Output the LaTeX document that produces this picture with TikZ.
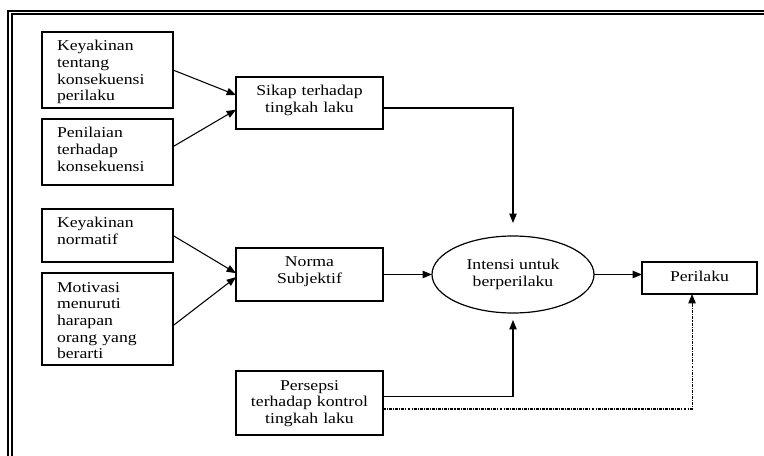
\documentclass[tikz,border=0pt]{standalone}
\usepackage{fontspec}
\setmainfont{Liberation Serif}[FakeStretch=1.18]
\usetikzlibrary{%
  arrows.meta,
  positioning,calc,
  shapes.geometric
}

\begin{document}
\begin{tikzpicture}[x=0.75pt,y=-0.75pt,
    font=\fontsize{11.25pt}{12.5pt}\selectfont,
    every node/.style={outer sep=0pt},
    lbox/.style={draw,line width=0.9pt,anchor=north west,inner xsep=11.25pt,
      inner ysep=0pt,text width=75.75pt,align=left,text height=14.25pt},
    cbox/.style={draw,line width=0.9pt,anchor=north west,inner xsep=7.5pt,
      inner ysep=0pt,text width=95.25pt,align=center,text height=14.25pt},
    arr/.style={line width=0.8pt,-{Triangle[length=7pt,width=5.5pt]}}]
  \useasboundingbox (0,0) rectangle (764,456);
  \clip (0,0) rectangle (764,456);
  \draw[line width=1.5pt] (780,11) -- (8,11) -- (8,470);
  \draw[line width=1.5pt] (780,14) -- (12,14) -- (12,470);
  \foreach \nm/\ty/\dep/\txt in {ka/32/42.75/{Keyakinan\\tentang\\konsekuensi\\perilaku},
      pn/119/35.25/{Penilaian\\terhadap\\konsekuensi},
      kn/209/25.5/{Keyakinan\\normatif},
      mv/273/54.75/{Motivasi\\menuruti\\harapan\\orang yang\\berarti}} {
    \node[lbox,text depth=\dep pt] (\nm) at (42,\ty) {\txt};
  }
  \node[cbox,text depth=24.75pt] (sk) at (236,77) {Sikap terhadap\\tingkah laku};
  \node[cbox,text depth=25.5pt] (ns) at (236,248) {Norma\\Subjektif};
  \node[cbox,text depth=33.75pt] (pk) at (236,371) {Persepsi\\terhadap kontrol\\tingkah laku};
  \node[draw,ellipse,line width=0.9pt,minimum width=121.5pt,minimum height=57.75pt,
    inner sep=0pt,align=center] (ib) at (513,274.5) {Intensi untuk\\berperilaku};
  \node[cbox,text width=71.25pt,text depth=9.75pt] (pr) at (642,262) {Perilaku};

  \draw[arr] (ka.east) -- ([yshift=6pt]sk.west);
  \draw[arr] ([yshift=4pt]pn.east) -- ([yshift=-5pt]sk.west);
  \draw[arr] (kn.east) -- ([yshift=1pt]ns.west);
  \draw[arr] ([yshift=-5pt]mv.east) -- ([yshift=-2pt]ns.west);
  \draw[arr] ([yshift=-3.75pt]sk.east) -| ([yshift=9.75pt]ib.north);
  \draw[arr] (ns.east) -- (ib.west);
  \draw[arr] ([yshift=5pt]pk.east) -| ([yshift=-5.25pt]ib.south);
  \draw[arr] (ib.east) -- (ib.east -| pr.west);
  \draw[arr,dash pattern=on 2.2pt off 0.8pt on 0.8pt off 0.8pt]
    ([yshift=-4.5pt]pk.east) -| ([xshift=-5.6pt]pr.south);
\end{tikzpicture}
\end{document}
